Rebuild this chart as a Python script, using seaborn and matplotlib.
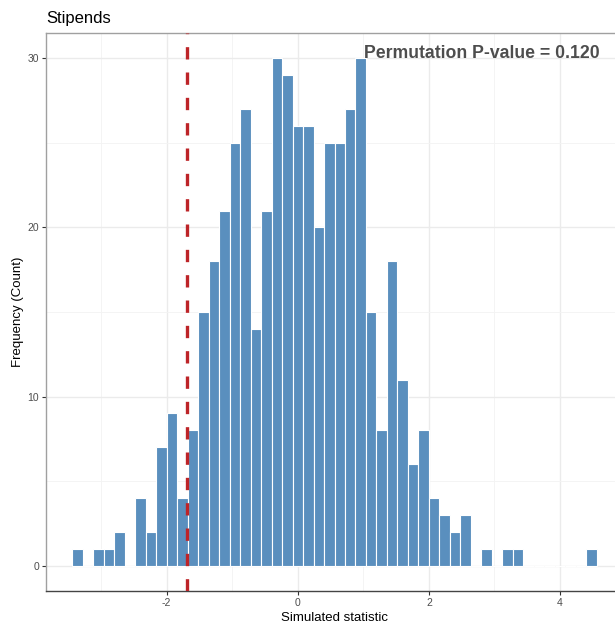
import numpy as np
import pandas as pd
import matplotlib
matplotlib.use("Agg")
import matplotlib.pyplot as plt
import seaborn as sns

# Permutation distribution of the simulated statistic (50 bins)
bin_start = -3.44
bin_width = 0.16
counts = [1, 0, 1, 1, 2, 0, 4, 2, 7, 9,
          4, 8, 15, 18, 21, 25, 27, 14, 21, 30,
          29, 26, 26, 20, 25, 25, 27, 30, 15, 8,
          18, 11, 6, 8, 4, 3, 2, 3, 0, 1,
          0, 1, 1, 0, 0, 0, 0, 0, 0, 1]
observed_stat = -1.69
p_value = 0.120
title = "Stipends"
x_label = "Simulated statistic"
y_label = "Frequency (Count)"
x_ticks = [-2, 0, 2, 4]
y_ticks = [0, 10, 20, 30]

edges = bin_start + bin_width * np.arange(len(counts) + 1)
centers = (edges[:-1] + edges[1:]) / 2
df = pd.DataFrame({"stat": centers, "n": counts})

sns.set_theme(style="white")
plt.rcParams["font.family"] = ["Liberation Sans", "DejaVu Sans"]
plt.rcParams["axes.unicode_minus"] = False

fig = plt.figure(figsize=(6.15, 6.23), dpi=100)
ax = fig.add_axes([46 / 615, 32 / 623, 577 / 615, 558 / 623])

sns.histplot(data=df, x="stat", weights="n", bins=edges.tolist(), ax=ax,
             color="#5A8FBE", alpha=1.0, edgecolor="white", linewidth=0.8,
             zorder=2)

ax.axvline(observed_stat, color="#BD2428", linewidth=2.4,
           linestyle=(0, (3.7, 3.9)), zorder=3)

# axis ranges with 5% padding around the data
x_lo, x_hi = edges[0], edges[-1]
xpad = 0.05 * (x_hi - x_lo)
ymax = max(counts)
ax.set_xlim(x_lo - xpad, x_hi + xpad)
ax.set_ylim(-0.05 * ymax, 1.05 * ymax)

ax.set_xticks(x_ticks)
ax.set_yticks(y_ticks)
ax.set_xticks([-3, -1, 1, 3], minor=True)
ax.set_yticks([5, 15, 25], minor=True)
ax.grid(True, which="major", color="#EBEBEB", linewidth=1.0, zorder=0)
ax.grid(True, which="minor", color="#F3F3F3", linewidth=0.6, zorder=0)
ax.set_axisbelow(True)

ax.tick_params(axis="both", which="major", length=3, width=0.8,
               color="#333333", labelsize=7.5, labelcolor="#4D4D4D", pad=2,
               bottom=True, left=True)
ax.tick_params(axis="both", which="minor", length=0)

for side in ["left", "top", "right"]:
    ax.spines[side].set_color("#A0A0A0")
    ax.spines[side].set_linewidth(1.0)
ax.spines["bottom"].set_color("#444444")
ax.spines["bottom"].set_linewidth(1.0)

ax.set_xlabel(x_label, fontsize=9.5, color="black", labelpad=3)
ax.set_ylabel(y_label, fontsize=9.5, color="black", labelpad=2.5)

fig.text(46 / 615, 1 - 18 / 623, title, fontsize=12, color="black",
         ha="left", va="center")

ax.text(4.60, 30.3, f"Permutation P-value = {p_value:.3f}",
        ha="right", va="center", fontsize=12.7, fontweight="bold",
        color="#4D4D4D", zorder=4)

fig.savefig("out.png", dpi=100)
